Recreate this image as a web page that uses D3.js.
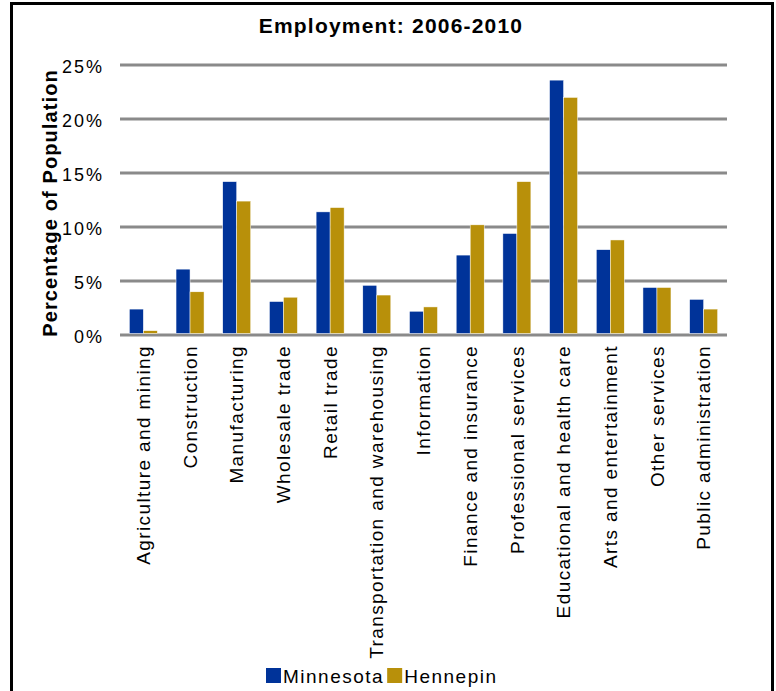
<!DOCTYPE html>
<html>
<head>
<meta charset="utf-8">
<script src="https://cdn.jsdelivr.net/npm/d3@7"></script>
<style>
  body { margin: 0; background: #fff; }
  svg { display: block; font-family: "Liberation Sans", Arial, sans-serif; }
</style>
</head>
<body>
<div id="chart"></div>
<script>
const categories = [
  "Agriculture and mining", "Construction", "Manufacturing", "Wholesale trade",
  "Retail trade", "Transportation and warehousing", "Information",
  "Finance and insurance", "Professional services", "Educational and health care",
  "Arts and entertainment", "Other services", "Public administration"
];
const seriesNames = ["Minnesota", "Hennepin"];
const minnesota = [2.4, 6.1, 14.2, 3.1, 11.4, 4.6, 2.2, 7.4, 9.4, 23.6, 7.9, 4.4, 3.3];
const hennepin  = [0.4, 4.0, 12.4, 3.5, 11.8, 3.7, 2.6, 10.2, 14.2, 22.0, 8.8, 4.4, 2.4];
const yTicks = [0, 5, 10, 15, 20, 25];
const colors = ["#003399", "#b8900a"];

const width = 776;
const height = 691;
const margin = { top: 65, right: 49, bottom: 356, left: 120 };
const font = "Liberation Sans, Arial, sans-serif";

const svg = d3.select("#chart").append("svg").attr("width", width).attr("height", height);

// cadre
svg.append("rect")
  .attr("x", 11.5).attr("y", 3.5)
  .attr("width", 761).attr("height", 720)
  .attr("fill", "none").attr("stroke", "#000").attr("stroke-width", 3);

const x = d3.scaleBand().domain(categories)
  .range([margin.left, width - margin.right])
  .paddingInner(0.4).paddingOuter(0.2);
const xSub = d3.scaleBand().domain(seriesNames).range([0, x.bandwidth()]);
const y = d3.scaleLinear().domain([0, 25]).range([height - margin.bottom, margin.top]);

// grille
svg.append("g")
  .selectAll("line")
  .data(yTicks)
  .join("line")
  .attr("x1", margin.left).attr("x2", width - margin.right)
  .attr("y1", d => y(d)).attr("y2", d => y(d))
  .attr("stroke", "#8a8a8a").attr("stroke-width", 3);

// axe y
const yAxis = d3.axisLeft(y).tickValues(yTicks).tickFormat(d => d + "%").tickSize(0).tickPadding(16);
const gy = svg.append("g").attr("transform", `translate(${margin.left},0)`).call(yAxis);
gy.select(".domain").remove();
gy.selectAll("text")
  .attr("font-size", 18).attr("fill", "#000").attr("font-family", font)
  .attr("letter-spacing", 2).attr("dy", "0.4em");

// barres
const rows = categories.map((c, i) => ({ cat: c, values: [minnesota[i], hennepin[i]] }));
svg.append("g")
  .selectAll("g")
  .data(rows)
  .join("g")
  .attr("transform", d => `translate(${x(d.cat)},0)`)
  .selectAll("rect")
  .data(d => d.values.map((v, j) => ({ name: seriesNames[j], v, j })))
  .join("rect")
  .attr("x", d => xSub(d.name))
  .attr("y", d => y(d.v))
  .attr("width", xSub.bandwidth())
  .attr("height", d => y(0) - 1.5 - y(d.v))
  .attr("fill", d => colors[d.j])
  .attr("stroke", "#fff").attr("stroke-width", 0.5);

// axe x
const xAxis = d3.axisBottom(x).tickSize(0).tickPadding(0);
const gx = svg.append("g").attr("transform", `translate(0,${y(0) + 10})`).call(xAxis);
gx.select(".domain").remove();
gx.selectAll("text")
  .attr("font-size", 19).attr("fill", "#000").attr("font-family", font)
  .attr("letter-spacing", 1.4)
  .attr("transform", "rotate(-90)")
  .attr("text-anchor", "end")
  .attr("x", 0).attr("y", 0).attr("dy", "0.35em");

// titres
svg.append("text")
  .attr("x", 391).attr("y", 33)
  .attr("text-anchor", "middle")
  .attr("font-size", 21).attr("font-weight", "bold")
  .attr("letter-spacing", 1.2)
  .text("Employment: 2006-2010");

svg.append("text")
  .attr("transform", `translate(57,${(y(0) + y(25)) / 2 + 3}) rotate(-90)`)
  .attr("text-anchor", "middle")
  .attr("font-size", 20).attr("font-weight", "bold")
  .attr("letter-spacing", 1.1)
  .text("Percentage of Population");

// légende
const legend = svg.append("g").attr("transform", "translate(266,668)");
let lx = 0;
seriesNames.forEach((name, i) => {
  legend.append("rect").attr("x", lx).attr("y", 0).attr("width", 15).attr("height", 15).attr("fill", colors[i]);
  const t = legend.append("text").attr("x", lx + 17).attr("y", 14.5)
    .attr("font-size", 19).attr("letter-spacing", 1.5).text(name);
  lx += 17 + t.node().getComputedTextLength() + 3;
});
</script>
</body>
</html>
